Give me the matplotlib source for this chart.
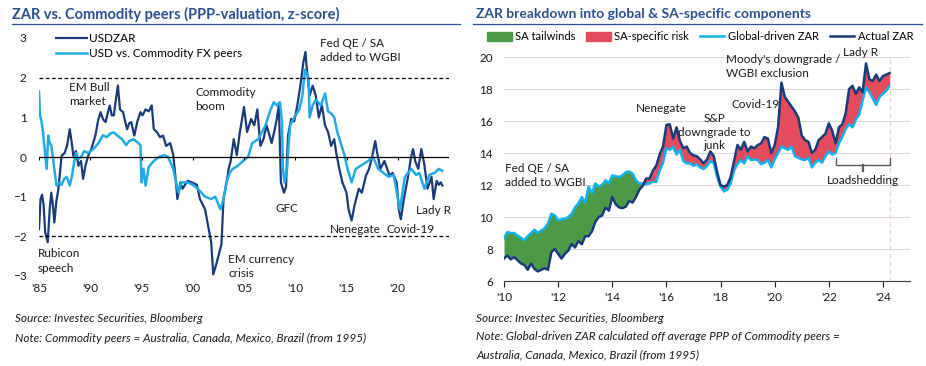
import numpy as np
import matplotlib.pyplot as plt
from matplotlib.lines import Line2D
from matplotlib.patches import Patch

plt.rcParams['font.family'] = ['Lato', 'DejaVu Sans']

W, H = 926, 366

# Left chart: z-scores (year, value)
zar_t = [1985.0, 1985.15, 1985.3, 1985.45, 1985.6, 1985.85, 1986.05, 1986.2, 1986.35, 1986.5,
         1986.7, 1986.9, 1987.2, 1987.5, 1987.75, 1988.0, 1988.2, 1988.35, 1988.6, 1988.85,
         1989.1, 1989.3, 1989.55, 1989.8, 1990.1, 1990.5, 1990.75, 1991.0, 1991.25, 1991.5,
         1991.7, 1991.9, 1992.1, 1992.3, 1992.5, 1992.7, 1992.9, 1993.2, 1993.4, 1993.6,
         1993.8, 1994.0, 1994.3, 1994.6, 1994.9, 1995.1, 1995.4, 1995.7, 1996.0, 1996.2,
         1996.5, 1996.8, 1997.1, 1997.4, 1997.8, 1998.1, 1998.3, 1998.5, 1998.8, 1999.0,
         1999.5, 2000.0, 2000.4, 2000.7, 2001.2, 2001.5, 2001.8, 2002.0, 2002.3, 2002.6,
         2002.8, 2003.0, 2003.3, 2003.5, 2003.7, 2004.0, 2004.3, 2004.6, 2005.0, 2005.3,
         2005.7, 2006.0, 2006.3, 2006.6, 2006.9, 2007.2, 2007.7, 2008.0, 2008.2, 2008.4,
         2008.6, 2008.9, 2009.1, 2009.2, 2009.3, 2009.6, 2009.9, 2010.2, 2010.5, 2010.6,
         2010.8, 2011.0, 2011.1, 2011.4, 2011.7, 2012.0, 2012.3, 2012.6, 2012.9, 2013.2,
         2013.5, 2013.8, 2014.0, 2014.3, 2014.6, 2015.0, 2015.2, 2015.5, 2015.8, 2016.2,
         2016.5, 2016.9, 2017.2, 2017.5, 2017.8, 2018.0, 2018.3, 2018.7, 2019.2, 2019.5,
         2019.9, 2020.1, 2020.3, 2020.6, 2021.0, 2021.3, 2021.5, 2021.7, 2022.0, 2022.3,
         2022.6, 2022.9, 2023.3, 2023.5, 2023.8, 2024.0, 2024.2, 2024.35]
zar_v = [-1.82, -1.06, -0.95, -1.2, -1.9, -2.15, -1.3, -0.9, -1.2, -1.65,
         -1.1, -0.8, 0.03, 0.1, 0.3, 0.7, 0.35, 0.03, 0.15, -0.22,
         -0.1, -0.55, -0.2, 0.03, 0.2, 0.54, 0.9, 1.13, 0.95, 0.88,
         1.1, 1.3, 1.05, 1.05, 1.45, 1.8, 1.2, 1.13, 0.9, 0.7,
         0.85, 0.88, 0.54, 0.9, 1.13, 1.05, 1.2, 1.15, 1.3, 0.7,
         0.63, 0.5, 0.54, 0.28, 0.35, 0.05, -0.47, -1.06, -0.64, -0.8,
         -0.6, -0.65, -0.7, -1.06, -1.32, -1.74, -2.15, -2.96, -2.7, -2.4,
         -2.2, -1.06, -0.64, -0.3, -0.1, 0.45, 0.05, 0.63, 1.26, 0.63,
         0.96, 0.8, 1.2, 0.28, 0.45, 0.8, 0.35, 0.7, 0.96, 1.3,
         -0.64, -0.9, -0.75, 0.0, 0.54, 0.96, 0.9, 1.3, 1.8, 2.0,
         2.4, 2.65, 2.3, 1.55, 1.8, 1.55, 1.0, 1.3, 0.8, 0.63,
         0.28, 0.45, 0.1, -0.3, -0.64, -0.9, -1.32, -1.6, -1.2, -0.8,
         -0.9, -0.47, -0.3, 0.0, 0.4, 0.1, -0.3, -0.1, -0.47, -0.4,
         -0.64, -1.32, -1.57, -1.06, -0.5, 0.0, 0.2, -0.1, -0.3, 0.2,
         -0.2, -0.8, -0.5, -1.06, -0.6, -0.7, -0.64, -0.72]

com_t = [1985.0, 1985.1, 1985.25, 1985.4, 1985.55, 1985.75, 1985.9, 1986.05, 1986.2, 1986.4,
         1986.7, 1987.0, 1987.2, 1987.45, 1987.7, 1988.0, 1988.2, 1988.35, 1988.6, 1988.85,
         1989.1, 1989.4, 1989.8, 1990.3, 1990.8, 1991.25, 1991.6, 1992.0, 1992.3, 1992.6,
         1993.1, 1993.5, 1993.8, 1994.2, 1994.6, 1994.9, 1995.0, 1995.2, 1995.4, 1995.7,
         1996.2, 1996.7, 1997.2, 1997.6, 1998.1, 1998.6, 1998.9, 1999.5, 2000.0, 2000.5,
         2001.2, 2001.8, 2002.2, 2002.7, 2003.0, 2003.3, 2003.6, 2003.9, 2004.4, 2004.9,
         2005.4, 2005.8, 2006.4, 2007.1, 2007.6, 2007.9, 2008.2, 2008.5, 2008.7, 2008.8,
         2008.95, 2009.2, 2009.35, 2009.5, 2009.9, 2010.4, 2010.7, 2010.95, 2011.3, 2011.4,
         2011.7, 2012.0, 2012.5, 2012.9, 2013.2, 2013.5, 2013.8, 2014.1, 2014.5, 2014.8,
         2015.1, 2015.5, 2015.9, 2016.4, 2017.1, 2017.6, 2018.1, 2018.6, 2019.1, 2019.6,
         2020.2, 2020.4, 2020.7, 2021.3, 2021.8, 2022.1, 2022.6, 2023.1, 2023.6, 2024.0,
         2024.35]
com_v = [1.65, 1.05, 0.9, 0.6, 0.2, -0.3, 0.54, 0.35, 0.3, -0.1,
         -0.72, -0.65, -0.7, -0.55, -0.5, -0.72, -0.5, -0.25, 0.1, -0.05,
         0.0, 0.15, 0.1, 0.2, 0.35, 0.55, 0.5, 0.6, 0.62, 0.55,
         0.45, 0.3, 0.4, 0.45, 0.37, 0.3, -0.64, -0.3, -0.72, -0.25,
         -0.1, 0.0, 0.05, 0.0, -0.3, -0.9, -0.64, -0.64, -0.7, -0.8,
         -1.0, -1.06, -1.0, -1.32, -1.06, -0.64, -0.4, -0.3, -0.22, -0.1,
         0.0, 0.35, 0.45, 0.8, 1.2, 1.38, 1.3, 1.38, 0.9, -0.3,
         -0.64, -0.3, 0.3, 0.8, 1.0, 1.2, 1.55, 2.2, 2.0, 1.0,
         1.3, 1.45, 1.3, 1.6, 1.15, 1.1, 1.0, 0.63, 0.3, 0.05,
         -0.3, -0.64, -0.3, -0.22, -0.1, 0.0, -0.3, -0.4, -0.5, -0.45,
         -1.32, -1.0, -0.5, -0.3, -0.45, -0.4, -0.8, -0.45, -0.4, -0.3,
         -0.35]

left_ticks = [1985, 1990, 1995, 2000, 2005, 2010, 2015, 2020]
left_labels = ["'85", "'90", "'95", "'00", "'05", "'10", "'15", "'20"]

# Right chart: USDZAR levels on a common date grid (1/8 year)
zar_dates = 2010 + np.arange(115) / 8
global_zar = [8.67, 9.05, 9.0, 9.0, 8.85, 8.7, 8.56, 8.8,
              9.0, 9.2, 9.0, 9.15, 9.3, 9.6, 10.2, 10.1,
              9.8, 9.85, 9.9, 10.0, 10.2, 10.6, 10.85, 11.25,
              10.9, 11.9, 11.5, 12.1, 11.9, 12.0, 12.3, 12.1,
              12.6, 12.55, 12.5, 12.6, 12.8, 12.85, 12.7, 12.3,
              12.1, 12.1, 12.05, 12.1, 12.2, 12.2, 12.9, 13.4,
              14.3, 14.2, 14.4, 13.9, 14.2, 13.5, 13.35, 13.35,
              13.2, 13.3, 13.1, 13.0, 13.2, 13.5, 13.35, 12.5,
              11.9, 11.6, 11.7, 12.1, 12.9, 13.3, 13.56, 13.35,
              13.8, 13.56, 13.6, 13.56, 13.3, 13.4, 13.56, 13.1,
              13.6, 14.0, 14.4, 14.3, 14.2, 14.4, 13.8, 13.7,
              13.6, 13.56, 13.7, 13.1, 13.4, 13.56, 13.4, 13.8,
              14.1, 13.9, 14.0, 14.6, 15.0, 15.5, 15.8, 15.6,
              16.1, 16.4, 17.3, 18.1, 17.8, 17.4, 17.0, 17.5,
              17.7, 17.9, 18.2]
actual_zar = [7.4, 7.6, 7.35, 7.5, 7.3, 7.1, 7.0, 6.7,
              7.1, 6.75, 6.6, 6.7, 6.8, 6.7, 7.8, 8.0,
              7.7, 7.4, 7.7, 7.9, 8.3, 8.1, 8.5, 8.3,
              8.8, 8.8, 9.1, 9.7, 10.0, 10.1, 10.6, 10.4,
              11.25, 10.8, 10.6, 10.55, 10.65, 11.0, 10.9, 11.25,
              11.7, 11.95, 12.4, 12.4, 12.9, 13.2, 13.9, 14.4,
              15.75, 15.8, 14.9, 15.6, 14.75, 14.3, 14.4, 14.0,
              13.85, 13.8, 13.6, 13.35, 13.6, 14.1, 13.8, 12.8,
              12.0, 11.9, 12.0, 12.5, 13.5, 14.5, 14.2, 14.7,
              14.1, 14.4, 14.3, 14.5, 14.6, 15.0, 14.9, 14.0,
              14.5, 15.6, 18.4, 17.5, 17.2, 16.9, 16.6, 16.2,
              15.1, 14.8, 14.7, 14.0, 14.2, 14.8, 15.0, 15.2,
              15.85, 15.4, 14.6, 15.6, 15.8, 16.5, 18.0, 18.2,
              17.7, 18.1, 17.8, 19.6, 18.6, 18.5, 18.9, 18.5,
              18.8, 18.9, 19.0]

right_ticks = [2010, 2012, 2014, 2016, 2018, 2020, 2022, 2024]
right_labels = ["'10", "'12", "'14", "'16", "'18", "'20", "'22", "'24"]

dark = '#1B3A7A'
light = '#22AAE6'
title_col = '#2E4F8F'
txt = '#1a1a1a'
fs = 8.5

fig = plt.figure(figsize=(W / 100, H / 100), dpi=100)


def rect(x0, y0, x1, y1):
    return [x0 / W, 1 - y1 / H, (x1 - x0) / W, (y1 - y0) / H]


# titles and rules
fig.text(12 / W, 1 - 14 / H, 'ZAR vs. Commodity peers (PPP-valuation, z-score)',
         color=title_col, fontsize=10.5, fontweight='bold', va='center')
fig.text(476 / W, 1 - 14 / H, 'ZAR breakdown into global & SA-specific components',
         color=title_col, fontsize=10, fontweight='bold', va='center')
fig.add_artist(Line2D([12 / W, 460 / W], [1 - 23.5 / H] * 2, color=title_col, lw=0.9))
fig.add_artist(Line2D([473 / W, 922 / W], [1 - 23.5 / H] * 2, color=title_col, lw=0.9))

# ---------------- left chart ----------------
ax = fig.add_axes(rect(39, 38, 449, 276))
ax.plot(zar_t, zar_v, color=dark, lw=1.6, label='USDZAR')
ax.plot(com_t, com_v, color=light, lw=1.8, label='USD vs. Commodity FX peers')
ax.axhline(0, color='black', lw=0.9)
for lvl in (2, -2):
    ax.axhline(lvl, color='black', lw=0.9, ls=(0, (3, 2)))
ax.vlines(left_ticks + [2025], -0.08, 0, color='black', lw=0.8)
ax.set_xlim(1985, 2025)
ax.set_ylim(-3, 3)
ax.set_xticks(left_ticks)
ax.set_xticklabels(left_labels)
ax.set_yticks([-3, -2, -1, 0, 1, 2, 3])
ax.tick_params(length=0, labelsize=fs, colors=txt)
ax.tick_params(axis='y', pad=9)
ax.tick_params(axis='x', pad=5)
for s in ax.spines.values():
    s.set_visible(False)
ax.legend(loc='upper left', bbox_to_anchor=(0.03, 1.04), frameon=False, fontsize=fs,
          handlelength=2.6, handletextpad=0.2, labelspacing=0.35, borderaxespad=0)

left_notes = [
    ('EM Bull\nmarket', 1987.9, 1.58, 'left'),
    ('Commodity\nboom', 2000.25, 1.45, 'left'),
    ('Fed QE / SA\nadded to WGBI', 2012.4, 2.69, 'left'),
    ('Rubicon\nspeech', 1984.85, -2.62, 'left'),
    ('EM currency\ncrisis', 2003.45, -2.75, 'left'),
    ('GFC', 2009.15, -1.3, 'center'),
    ('Nenegate', 2015.9, -1.82, 'center'),
    ('Covid-19', 2021.3, -1.82, 'center'),
    ('Lady R', 2023.5, -1.34, 'center'),
]
for s, x, y, ha in left_notes:
    ax.text(x, y, s, ha=ha, va='center', fontsize=fs, color=txt, linespacing=1.35)

fig.text(15 / W, 1 - 319 / H, 'Source: Investec Securities, Bloomberg', fontsize=fs,
         style='italic', color=txt, va='center')
fig.text(15 / W, 1 - 338 / H, 'Note: Commodity peers = Australia, Canada, Mexico, Brazil (from 1995)',
         fontsize=fs, style='italic', color=txt, va='center')

# ---------------- right chart ----------------
bx = fig.add_axes(rect(504, 57, 910, 281))
g = np.array(global_zar)
a = np.array(actual_zar)
bx.fill_between(zar_dates, a, g, where=g >= a, interpolate=True, color='#4C9A48', lw=0)
bx.fill_between(zar_dates, a, g, where=a >= g, interpolate=True, color='#E24C5C', lw=0)
bx.plot(zar_dates, g, color='#12B2EE', lw=1.8)
bx.plot(zar_dates, a, color=dark, lw=1.8)
bx.axvline(2024.25, color='#F5C9D0', lw=0.8, ls=(0, (4, 3)))
bx.set_xlim(2010, 2025)
bx.set_ylim(6, 20)
bx.set_yticks(range(6, 21, 2))
bx.set_xticks(right_ticks)
bx.set_xticklabels(right_labels)
bx.grid(axis='y', color='#D9D9D9', lw=0.8)
bx.set_axisbelow(True)
for s in ('top', 'right', 'left'):
    bx.spines[s].set_visible(False)
bx.spines['bottom'].set_color('#404040')
bx.tick_params(axis='y', length=0, pad=8)
bx.tick_params(axis='x', length=4, color='#404040', pad=4)
bx.tick_params(labelsize=fs, colors=txt)

handles = [Patch(color='#4C9A48'), Patch(color='#E24C5C'),
           Line2D([], [], color='#12B2EE', lw=1.8), Line2D([], [], color=dark, lw=1.8)]
bx.legend(handles, ['SA tailwinds', 'SA-specific risk', 'Global-driven ZAR', 'Actual ZAR'],
          loc='center', bbox_to_anchor=(0.483, 1.09), ncol=4, frameon=False, fontsize=8,
          handlelength=2.2, handleheight=0.9, handletextpad=0.3, columnspacing=1.0,
          borderaxespad=0, borderpad=0)

right_notes = [
    ('Fed QE / SA\nadded to WGBI', 2010.05, 12.6, 'left'),
    ('Nenegate', 2015.83, 16.75, 'center'),
    ('S&P\ndowngrade to\njunk', 2017.78, 15.3, 'center'),
    ('Covid-19', 2019.29, 17.05, 'center'),
    ("Moody's downgrade /\nWGBI exclusion", 2018.2, 19.4, 'left'),
    ('Lady R', 2023.17, 20.3, 'center'),
    ('Loadshedding', 2023.25, 12.3, 'center'),
]
for s, x, y, ha in right_notes:
    bx.text(x, y, s, ha=ha, va='center', fontsize=fs, color=txt, linespacing=1.3)

# loadshedding bracket
bx.plot([2022.27, 2022.27, 2024.26, 2024.26], [13.7, 13.25, 13.25, 13.7], color='#595959', lw=1)
bx.plot([2023.25, 2023.25], [13.25, 12.9], color='#595959', lw=1.6)

fig.text(476 / W, 1 - 319 / H, 'Source: Investec Securities, Bloomberg', fontsize=fs,
         style='italic', color=txt, va='center')
fig.text(476 / W, 1 - 337 / H, 'Note: Global-driven ZAR calculated off average PPP of Commodity peers =',
         fontsize=fs, style='italic', color=txt, va='center')
fig.text(476 / W, 1 - 355 / H, 'Australia, Canada, Mexico, Brazil (from 1995)',
         fontsize=fs, style='italic', color=txt, va='center')

fig.savefig('out.png', dpi=100)
